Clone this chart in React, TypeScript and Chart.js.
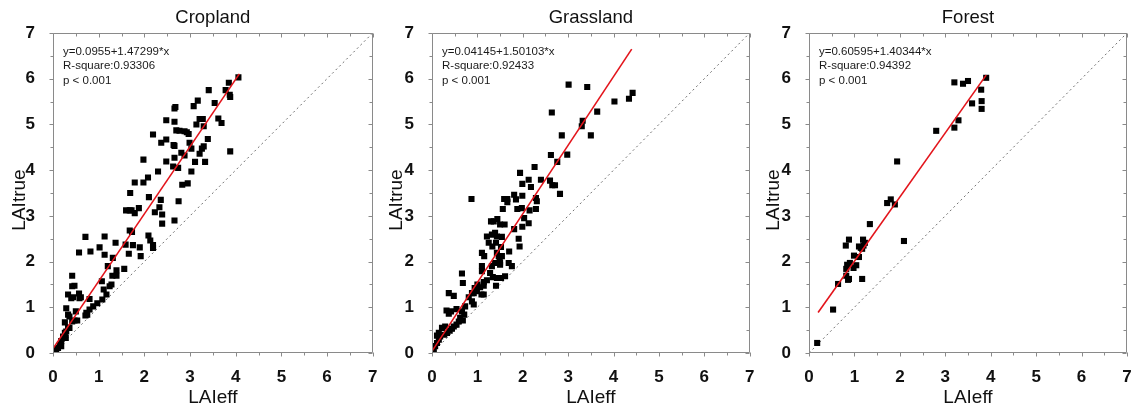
import React, { useEffect, useRef } from "react";
import { Chart, registerables } from "chart.js";

Chart.register(...registerables);

const panelTitles = ["Cropland", "Grassland", "Forest"];
const equationTexts = ["y=0.0955+1.47299*x", "y=0.04145+1.50103*x", "y=0.60595+1.40344*x"];
const rSquareTexts = ["R-square:0.93306", "R-square:0.92433", "R-square:0.94392"];
const pValueTexts = ["p < 0.001", "p < 0.001", "p < 0.001"];
const xAxisTitle = "LAIeff";
const yAxisTitle = "LAItrue";
const majorTicks = [0, 1, 2, 3, 4, 5, 6, 7];
const minorTicks = [0.5, 1.5, 2.5, 3.5, 4.5, 5.5, 6.5];

const croplandLaiEff = [4.06, 3.85, 3.87, 3.88, 3.78, 3.41, 3.54, 3.17, 3.08, 3.62, 3.69, 3.21, 3.28, 3.14, 3.30, 2.66, 2.68, 2.48, 2.66, 2.19, 2.48, 2.70, 2.77, 2.88, 2.93, 2.97, 2.64, 2.66, 2.37, 2.99, 3.03, 3.30, 3.26, 3.39, 3.21, 2.81, 2.88, 2.66, 2.48, 3.11, 3.33, 2.63, 2.74, 3.88, 3.03, 1.98, 2.30, 2.08, 1.98, 1.79, 2.83, 2.95, 1.69, 2.10, 2.36, 2.75, 1.60, 1.68, 1.72, 1.88, 1.79, 2.33, 2.23, 2.39, 2.39, 2.66, 1.68, 1.73, 2.09, 2.13, 2.19, 2.19, 1.59, 1.75, 1.90, 1.66, 1.92, 0.71, 1.13, 1.02, 1.37, 0.57, 0.82, 1.13, 1.20, 1.31, 1.39, 1.30, 1.39, 1.56, 0.42, 0.42, 0.47, 1.07, 1.28, 1.24, 0.33, 0.40, 0.44, 0.57, 0.61, 0.80, 1.11, 1.17, 1.08, 0.97, 0.88, 0.80, 0.73, 0.75, 0.71, 0.29, 0.33, 0.36, 0.50, 0.53, 0.47, 0.42, 0.26, 0.33, 0.29, 0.26, 0.22, 0.28, 0.18, 0.15, 0.11, 0.07, 0.04, 0.18, 0.36, 0.58];
const croplandLaiTrue = [6.03, 5.91, 5.65, 5.60, 5.75, 5.75, 5.47, 5.52, 5.40, 5.13, 5.03, 5.12, 5.12, 5.00, 4.96, 5.35, 5.38, 5.09, 5.06, 4.78, 4.67, 4.87, 4.86, 4.85, 4.83, 4.79, 4.55, 4.53, 4.60, 4.60, 4.47, 4.52, 4.47, 4.68, 4.36, 4.38, 4.32, 4.27, 4.19, 4.18, 4.18, 4.08, 4.05, 4.41, 3.97, 4.23, 3.97, 3.84, 3.73, 3.73, 3.68, 3.71, 3.50, 3.41, 3.35, 3.32, 3.12, 3.12, 3.12, 3.17, 3.06, 3.19, 3.08, 3.03, 2.83, 2.90, 2.68, 2.65, 2.57, 2.46, 2.36, 2.30, 2.37, 2.36, 2.31, 2.17, 2.12, 2.54, 2.55, 2.31, 2.41, 2.20, 2.22, 2.15, 1.90, 2.08, 1.81, 1.69, 1.69, 1.84, 1.69, 1.46, 1.47, 1.57, 1.50, 1.46, 1.28, 1.20, 1.22, 1.30, 1.22, 1.18, 1.39, 1.28, 1.17, 1.09, 1.02, 0.95, 0.88, 0.84, 0.82, 0.98, 0.84, 0.80, 0.91, 0.71, 0.71, 0.69, 0.67, 0.55, 0.47, 0.44, 0.36, 0.33, 0.26, 0.18, 0.11, 0.07, 0.04, 0.15, 0.55, 1.20];

const grasslandLaiEff = [4.42, 4.34, 4.02, 3.01, 3.42, 3.64, 2.64, 3.32, 3.30, 3.50, 2.86, 2.62, 2.98, 2.76, 2.26, 1.94, 2.13, 2.40, 1.99, 2.18, 2.60, 2.65, 2.71, 2.82, 0.87, 1.59, 1.66, 1.66, 1.81, 1.85, 1.99, 2.29, 2.31, 1.56, 1.88, 1.98, 2.15, 2.29, 1.30, 1.36, 1.44, 1.50, 1.60, 1.81, 1.99, 2.13, 2.03, 1.21, 1.32, 1.39, 1.43, 1.54, 1.25, 1.33, 1.41, 1.91, 1.93, 1.52, 1.70, 1.10, 1.15, 1.43, 1.47, 1.54, 1.49, 1.39, 1.32, 1.50, 1.50, 1.69, 1.76, 1.10, 1.10, 1.28, 1.34, 1.43, 1.21, 1.14, 1.52, 1.61, 1.41, 1.00, 1.06, 1.14, 0.94, 0.88, 1.09, 1.14, 0.66, 0.68, 0.37, 0.48, 0.81, 0.88, 0.92, 0.73, 0.66, 0.32, 0.37, 0.42, 0.54, 0.71, 0.62, 0.68, 0.59, 0.54, 0.48, 0.44, 0.39, 0.33, 0.27, 0.22, 0.29, 0.18, 0.15, 0.11, 0.07, 0.04, 0.15, 0.11, 0.92, 0.99];
const grasslandLaiTrue = [5.69, 5.56, 5.50, 5.87, 5.82, 5.28, 5.26, 5.08, 4.96, 4.76, 4.76, 4.33, 4.34, 4.18, 4.07, 3.94, 3.79, 3.79, 3.70, 3.63, 3.77, 3.67, 3.67, 3.48, 3.37, 3.37, 3.37, 3.30, 3.46, 3.36, 3.44, 3.39, 3.32, 3.15, 3.15, 3.17, 3.12, 3.15, 2.88, 2.88, 2.93, 2.81, 2.81, 2.71, 2.76, 2.84, 2.95, 2.55, 2.59, 2.63, 2.55, 2.54, 2.41, 2.33, 2.41, 2.50, 2.33, 2.32, 2.22, 2.19, 2.12, 2.19, 2.12, 2.12, 2.04, 1.97, 1.90, 1.98, 1.93, 1.97, 1.90, 1.90, 1.79, 1.75, 1.66, 1.64, 1.59, 1.55, 1.64, 1.68, 1.47, 1.50, 1.44, 1.47, 1.42, 1.31, 1.28, 1.28, 1.74, 1.53, 1.31, 1.25, 1.22, 1.13, 1.06, 1.02, 0.91, 0.93, 0.86, 0.91, 0.96, 0.84, 0.77, 0.71, 0.69, 0.62, 0.58, 0.53, 0.49, 0.44, 0.40, 0.55, 0.58, 0.36, 0.29, 0.22, 0.15, 0.07, 0.44, 0.38, 1.31, 1.35];

const forestLaiEff = [0.18, 0.53, 0.64, 0.86, 0.88, 0.82, 1.17, 0.81, 0.88, 0.82, 0.84, 0.90, 0.98, 1.04, 0.99, 1.10, 1.10, 1.14, 1.19, 1.23, 1.20, 1.17, 1.34, 2.09, 1.72, 1.80, 1.89, 1.94, 2.80, 3.20, 3.29, 3.59, 3.80, 3.80, 3.79, 3.20, 3.39, 3.50, 3.90];
const forestLaiTrue = [0.22, 0.95, 1.51, 1.60, 1.62, 1.69, 1.62, 2.35, 2.48, 1.84, 1.93, 1.97, 1.86, 1.92, 2.13, 2.10, 2.33, 2.30, 2.48, 2.41, 2.35, 2.28, 2.82, 2.45, 3.28, 3.36, 3.25, 4.19, 4.86, 4.93, 5.09, 5.46, 5.34, 5.51, 5.76, 5.92, 5.89, 5.95, 6.02];

// regression line end points (as drawn in the picture)
const croplandFitX = [0, 4.08];
const croplandFitY = [0.0955, 6.105];
const grasslandFitX = [0, 4.4];
const grasslandFitY = [0.0415, 6.646];
const forestFitX = [0.2, 3.9];
const forestFitY = [0.887, 6.079];

const identityX = [0, 7];
const identityY = [0, 7];

const panelEff = [croplandLaiEff, grasslandLaiEff, forestLaiEff];
const panelTrue = [croplandLaiTrue, grasslandLaiTrue, forestLaiTrue];
const panelFitX = [croplandFitX, grasslandFitX, forestFitX];
const panelFitY = [croplandFitY, grasslandFitY, forestFitY];

const FONT = "'Liberation Sans', Arial, sans-serif";
const AXIS_GRAY = "#8a8a8a";

const panelLayout = [
  { left: 0, width: 377, yWidth: 53, padRight: 4 },
  { left: 377, width: 377, yWidth: 55, padRight: 4 },
  { left: 754, width: 378, yWidth: 55, padRight: 5 },
];

const framePlugin = {
  id: "frame",
  afterDraw(chart: any, _args: any, opts: any) {
    const { ctx, chartArea, scales } = chart;
    const { left, right, top, bottom } = chartArea;
    const xs = scales.x;
    const ys = scales.y;
    const L = Math.round(left) + 0.5;
    const R = Math.round(right) - 0.5;
    const T = Math.round(top) + 0.5;
    const B = Math.round(bottom) - 0.5;
    ctx.save();
    ctx.strokeStyle = AXIS_GRAY;
    ctx.lineWidth = 1;
    ctx.beginPath();
    ctx.moveTo(L, T);
    ctx.lineTo(R, T);
    ctx.lineTo(R, B);
    ctx.lineTo(L, B);
    ctx.closePath();
    ctx.stroke();
    const drawTicks = (vals: number[], len: number) => {
      ctx.beginPath();
      for (const v of vals) {
        const px = Math.round(xs.getPixelForValue(v)) + 0.5;
        ctx.moveTo(px, B);
        ctx.lineTo(px, B + len);
        ctx.moveTo(px, T);
        ctx.lineTo(px, T + len);
        const py = Math.round(ys.getPixelForValue(v)) + 0.5;
        ctx.moveTo(L, py);
        ctx.lineTo(L - len, py);
        ctx.moveTo(R, py);
        ctx.lineTo(R - len, py);
      }
      ctx.stroke();
    };
    drawTicks(majorTicks, 4);
    drawTicks(minorTicks, 3);

    const cx = (left + right) / 2;
    ctx.fillStyle = "#111";
    ctx.textAlign = "center";
    ctx.textBaseline = "middle";
    ctx.font = `18.5px ${FONT}`;
    ctx.fillText(opts.title, cx, 17.5);
    ctx.font = `19px ${FONT}`;
    ctx.fillText(xAxisTitle, cx, 397.5);
    ctx.save();
    ctx.translate(20, 200);
    ctx.rotate(-Math.PI / 2);
    ctx.fillText(yAxisTitle, 0, 0);
    ctx.restore();

    ctx.font = `11.5px ${FONT}`;
    ctx.textAlign = "left";
    ctx.fillStyle = "#1a1a1a";
    const lines = opts.lines as string[];
    lines.forEach((s, i) => ctx.fillText(s, left + 10, top + 19 + i * 14.2));
    ctx.restore();
  },
};

function Panel({ index }: { index: number }) {
  const ref = useRef<HTMLCanvasElement | null>(null);
  const lay = panelLayout[index];
  useEffect(() => {
    if (!ref.current) return;
    const eff = panelEff[index];
    const tru = panelTrue[index];
    const points = eff.map((x, i) => ({ x, y: tru[i] }));
    const fit = panelFitX[index].map((x, i) => ({ x, y: panelFitY[index][i] }));
    const ident = identityX.map((x, i) => ({ x, y: identityY[i] }));
    const tickFont = { family: FONT, size: 17, weight: "bold" as const };
    const chart = new Chart(ref.current, {
      type: "scatter",
      data: {
        datasets: [
          {
            data: fit,
            showLine: true,
            borderColor: "#e3141b",
            borderWidth: 1.6,
            pointRadius: 0,
            order: 0,
          } as any,
          {
            data: points,
            pointStyle: "rect",
            pointRadius: 4.3,
            backgroundColor: "#000",
            borderColor: "#000",
            borderWidth: 0,
            order: 1,
          } as any,
          {
            data: ident,
            showLine: true,
            borderColor: "#707070",
            borderWidth: 1,
            borderDash: [2, 3],
            pointRadius: 0,
            order: 2,
          } as any,
        ],
      },
      options: {
        responsive: false,
        animation: false,
        devicePixelRatio: 1,
        layout: { padding: { top: 33, right: lay.padRight, left: 0, bottom: 0 } },
        plugins: {
          legend: { display: false },
          tooltip: { enabled: false },
          title: { display: false },
          frame: {
            title: panelTitles[index],
            lines: [equationTexts[index], rSquareTexts[index], pValueTexts[index]],
          },
        } as any,
        scales: {
          x: {
            type: "linear",
            min: 0,
            max: 7,
            ticks: { stepSize: 1, padding: 6, font: tickFont, color: "#111" },
            grid: { display: false },
            border: { display: false },
            afterFit: (s: any) => {
              s.height = 56;
              s.paddingLeft = 0;
              s.paddingRight = 0;
            },
          },
          y: {
            type: "linear",
            min: 0,
            max: 7,
            ticks: { stepSize: 1, padding: 10, font: tickFont, color: "#111" },
            grid: { display: false },
            border: { display: false },
            afterFit: (s: any) => {
              s.width = lay.yWidth;
              s.paddingTop = 0;
              s.paddingBottom = 0;
            },
          },
        },
      },
      plugins: [framePlugin],
    });
    return () => chart.destroy();
  }, [index]);
  return (
    <div style={{ position: "absolute", left: lay.left, top: 0, width: lay.width, height: 409 }}>
      <canvas ref={ref} width={lay.width} height={409} style={{ display: "block" }} />
    </div>
  );
}

export default function App() {
  return (
    <div style={{ position: "absolute", left: 0, top: 0, width: 1132, height: 409, background: "#fff" }}>
      <Panel index={0} />
      <Panel index={1} />
      <Panel index={2} />
    </div>
  );
}
